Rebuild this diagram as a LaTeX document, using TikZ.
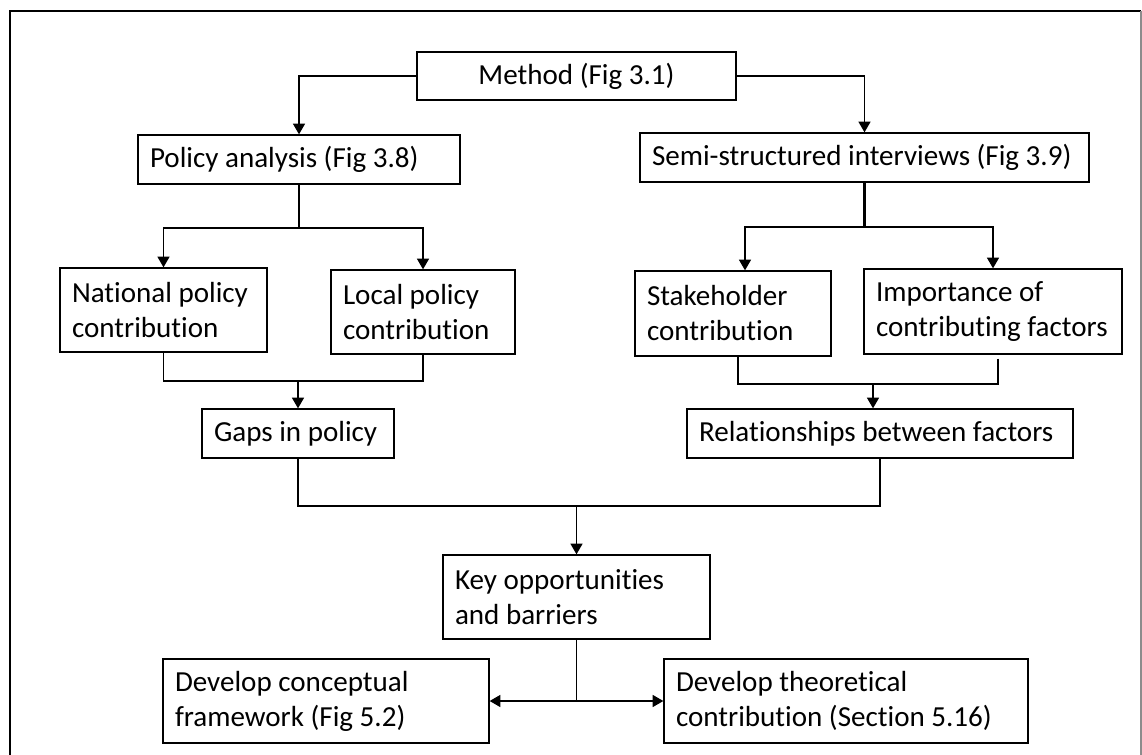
\documentclass[tikz,border=0pt]{standalone}
\usepackage{fontspec}
\setmainfont{Carlito}[Ligatures={NoCommon}]
\usetikzlibrary{arrows.meta,calc}
\begin{document}
\begin{tikzpicture}[x=0.75pt,y=-0.75pt,
  box/.style={draw=black, line width=1pt, inner xsep=9pt, inner ysep=0pt,
    align=flush left, font=\fontsize{21.8pt}{26.25pt}\selectfont},
  link/.style={line width=1pt},
  arr/.style={link, -{Triangle[width=9pt,length=8pt]}}]
\useasboundingbox (0,0) rectangle (1142,755);
% outer frame
\draw[line width=0.9pt] (10,770) -- (10,11) -- (1141,11);
\draw[line width=0.9pt, black!45] (1141,11) -- (1141,770);

% boxes
\node[box, text width=221.25pt, align=flush center, minimum height=36pt] (method) at (576.5,76) {Method (Fig 3.1)};
\node[box, text width=223.5pt, minimum height=36.75pt] (policy) at (299,159.5) {Policy analysis (Fig 3.8)};
\node[box, text width=318.75pt, minimum height=36.75pt] (semi) at (864.5,157.5) {Semi-structured interviews (Fig 3.9)};
\node[box, text width=137.25pt, minimum height=63pt] (national) at (163.5,310) {National policy\\contribution};
\node[box, text width=120pt, minimum height=63pt] (local) at (423,312) {Local policy\\contribution};
\node[box, text width=126pt, minimum height=36.75pt] (gaps) at (298,433.5) {Gaps in policy};
\node[box, text width=129pt, minimum height=63.75pt] (stake) at (733,313.5) {Stakeholder\\contribution};
\node[box, text width=175.5pt, minimum height=63.75pt] (import) at (993,311.5) {Importance of\\contributing factors};
\node[box, text width=271.5pt, minimum height=36.75pt] (rel) at (880,433.5) {Relationships between factors};
\node[box, text width=182.25pt, minimum height=63pt] (key) at (576.5,597) {Key opportunities\\and barriers};
\node[box, text width=226.5pt, minimum height=63pt] (concept) at (326,701) {Develop conceptual\\framework (Fig 5.2)};
\node[box, text width=255pt, minimum height=63pt] (theory) at (846,701) {Develop theoretical\\contribution (Section 5.16)};

% method splits into the two strands
\draw[arr] (method.west) -| (policy.north);
\draw[arr] (method.east) -| (semi.north);

% policy strand
\coordinate (pj) at (policy.south |- 0,228);
\draw[link] (policy.south) -- (pj);
\draw[arr] (pj) -| (national.north);
\draw[arr] (pj) -| (local.north);
\coordinate (gj) at (gaps.north |- 0,381);
\draw[link] (national.south) |- (gj);
\draw[link] (local.south) |- (gj);
\draw[arr] (gj) -- (gaps.north);

% interview strand
\coordinate (sj) at (semi.south |- 0,227);
\draw[link, line width=1.8pt] (semi.south) -- (sj);
\draw[arr] (sj) -| ($(stake.north)+(12,0)$);
\draw[arr] (sj) -| (import.north);
\coordinate (rj) at ($(rel.north |- 0,384)+(-7,0)$);
\draw[link] ($(stake.south)+(5,0)$) |- (rj);
\draw[link] ($(import.south)+(5,4)$) |- (rj);
\draw[arr] (rj) -- (rj |- rel.north);

% both strands meet
\coordinate (kj) at (key.north |- 0,506);
\draw[link] (gaps.south) |- (kj);
\draw[link] (rel.south) |- (kj);
\draw[arr] (kj) -- (key.north);

% outcomes
\coordinate (cj) at (key.south |- concept.east);
\draw[link] (key.south) -- (cj);
\draw[arr] (cj) -- (concept.east);
\draw[arr] (cj) -- (theory.west);
\end{tikzpicture}
\end{document}
